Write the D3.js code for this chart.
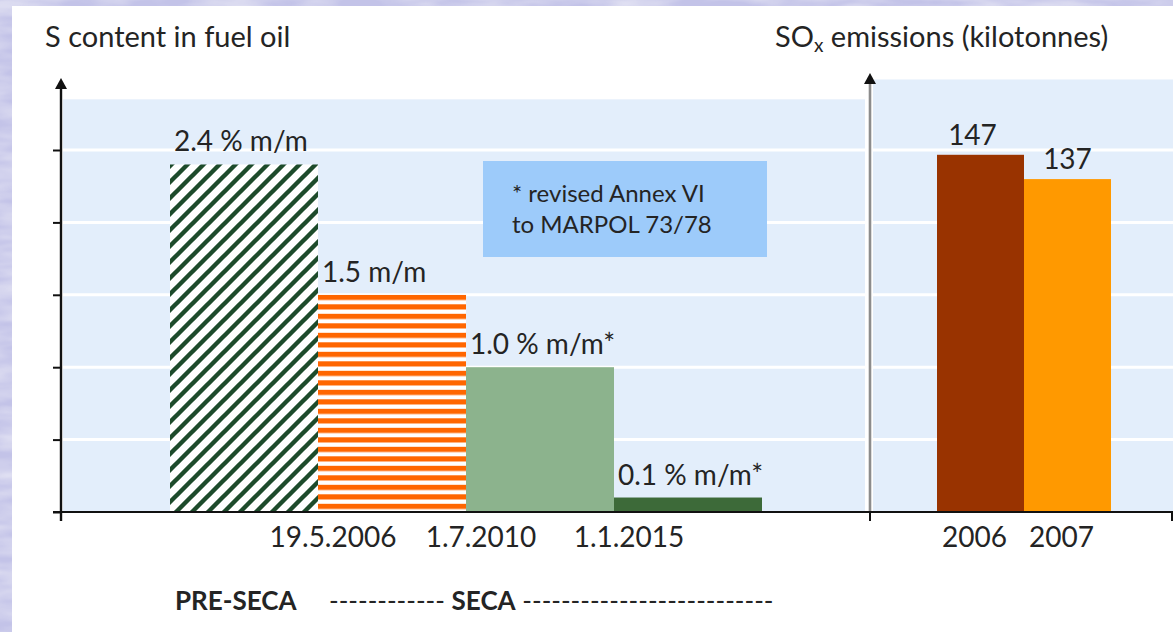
<!DOCTYPE html>
<html>
<head>
<meta charset="utf-8">
<script src="https://cdn.jsdelivr.net/npm/d3@7"></script>
<style>
  html, body { margin: 0; padding: 0; background: #fff; }
  svg { display: block; }
  text { font-family: Lato, "Open Sans", sans-serif; fill: #242424; }
</style>
</head>
<body>
<svg id="chart" width="1173" height="632"></svg>
<script>
// Sulphur limits for marine fuel oil (% m/m), one bar per regulatory period
const limitKeys   = ["pre", "seca2006", "seca2010", "seca2015"];
const limitValues = [2.4, 1.5, 1.0, 0.1];
const limitLabels = ["2.4 % m/m", "1.5 m/m", "1.0 % m/m*", "0.1 % m/m*"];
const limitDates  = ["", "19.5.2006", "1.7.2010", "1.1.2015"];
const limitTicks  = [0, 0.5, 1.0, 1.5, 2.0, 2.5];

// SOx emissions, kilotonnes
const emissionYears  = ["2006", "2007"];
const emissionValues = [147, 137];

const noteLines = ["* revised Annex VI", "to MARPOL 73/78"];

const W = 1173, H = 632;
const svg = d3.select("#chart");
const defs = svg.append("defs");

// ---- page background: lavender mottled frame + white sheet ----
const mottle = defs.append("filter").attr("id", "mottle").attr("x", 0).attr("y", 0).attr("width", 1).attr("height", 1);
mottle.append("feTurbulence").attr("type", "fractalNoise").attr("baseFrequency", "0.015 0.06").attr("numOctaves", 3).attr("seed", 4).attr("result", "n");
mottle.append("feColorMatrix").attr("in", "n").attr("type", "matrix")
  .attr("values", "0 0 0 0 1  0 0 0 0 1  0 0 0 0 1  0.9 0 0 0 -0.3").attr("result", "w");
mottle.append("feComposite").attr("in", "w").attr("in2", "SourceGraphic").attr("operator", "atop");

svg.append("rect").attr("width", W).attr("height", H).attr("fill", "#c3c3e8").attr("filter", "url(#mottle)");
svg.append("rect").attr("x", 12).attr("y", 6).attr("width", W - 12).attr("height", H - 6).attr("fill", "#ffffff");

// ---- scales ----
const baseY = 512;
const yL = d3.scaleLinear().domain([0, 2.5]).range([baseY, 150]);
const yR = d3.scaleLinear().domain([0, 150]).range([baseY, baseY - 150 * 2.43]);
const xL = d3.scaleBand().domain(limitKeys).range([170, 762]).padding(0);
const xR = d3.scaleBand().domain(emissionYears).range([937, 1111]).padding(0);

const axisLX = 61, axisRX = 870;
const leftPlot  = { x0: 63,  x1: 865 };
const rightPlot = { x0: 873, x1: W };

// ---- plot bands ----
svg.append("rect").attr("x", leftPlot.x0).attr("y", yL(2.85))
  .attr("width", leftPlot.x1 - leftPlot.x0).attr("height", baseY - yL(2.85)).attr("fill", "#e3eefb");
svg.append("rect").attr("x", rightPlot.x0).attr("y", yR(178))
  .attr("width", rightPlot.x1 - rightPlot.x0).attr("height", baseY - yR(178)).attr("fill", "#e3eefb");

// white gridlines, shared by both panels
const gridVals = limitTicks.filter(v => v > 0);
[leftPlot, rightPlot].forEach(p => {
  svg.append("g").selectAll("line").data(gridVals).join("line")
    .attr("x1", p.x0).attr("x2", p.x1)
    .attr("y1", d => yL(d)).attr("y2", d => yL(d))
    .attr("stroke", "#ffffff").attr("stroke-width", 3);
});

// ---- fill patterns ----
const hatch = defs.append("pattern").attr("id", "hatch").attr("patternUnits", "userSpaceOnUse")
  .attr("width", 16).attr("height", 16);
hatch.append("rect").attr("width", 16).attr("height", 16).attr("fill", "#ffffff");
hatch.append("path").attr("d", "M-4,4 L4,-4 M0,16 L16,0 M12,20 L20,12")
  .attr("stroke", "#1d4b2b").attr("stroke-width", 4.4);

const stripes = defs.append("pattern").attr("id", "stripes").attr("patternUnits", "userSpaceOnUse")
  .attr("x", 0).attr("y", yL(1.5)).attr("width", 10).attr("height", 9.5);
stripes.append("rect").attr("width", 10).attr("height", 9.5).attr("fill", "#ffffff");
stripes.append("rect").attr("width", 10).attr("height", 5.2).attr("fill", "#ff6600");

const limitFills = ["url(#hatch)", "url(#stripes)", "#8cb38d", "#3d6a39"];

// ---- left bars ----
svg.append("g").selectAll("rect").data(limitValues).join("rect")
  .attr("x", (d, i) => xL(limitKeys[i]))
  .attr("y", d => yL(d))
  .attr("width", xL.bandwidth())
  .attr("height", d => baseY - yL(d))
  .attr("fill", (d, i) => limitFills[i]);

svg.append("g").selectAll("text").data(limitValues).join("text")
  .attr("x", (d, i) => xL(limitKeys[i]) + 4)
  .attr("y", d => yL(d) - 13)
  .attr("font-size", 28)
  .text((d, i) => limitLabels[i]);

// ---- note box ----
svg.append("rect").attr("x", 483).attr("y", 161).attr("width", 284).attr("height", 96).attr("fill", "#9dcbfa");
svg.append("g").selectAll("text").data(noteLines).join("text")
  .attr("x", 512).attr("y", (d, i) => 202 + i * 31)
  .attr("font-size", 24)
  .text(d => d);

// ---- right bars ----
const emissionColors = ["#993300", "#ff9900"];
svg.append("g").selectAll("rect").data(emissionValues).join("rect")
  .attr("x", (d, i) => xR(emissionYears[i]))
  .attr("y", d => yR(d))
  .attr("width", xR.bandwidth())
  .attr("height", d => baseY - yR(d))
  .attr("fill", (d, i) => emissionColors[i]);

svg.append("g").selectAll("text").data(emissionValues).join("text")
  .attr("x", (d, i) => xR(emissionYears[i]) + xR.bandwidth() / 2 - (i === 0 ? 8 : 0))
  .attr("y", d => yR(d) - 10)
  .attr("text-anchor", "middle")
  .attr("font-size", 28)
  .text(d => d);

// ---- axes ----
const arrow = (x, tipY, color) => {
  svg.append("path")
    .attr("d", `M${x},${tipY} L${x - 6},${tipY + 11} L${x + 6},${tipY + 11} Z`)
    .attr("fill", color);
};

// left value axis with ticks
const gAxisL = svg.append("g").attr("transform", `translate(${axisLX},0)`)
  .call(d3.axisLeft(yL).tickValues(limitTicks).tickSize(8).tickFormat(""));
gAxisL.select(".domain").remove();
gAxisL.selectAll(".tick line").attr("stroke", "#111").attr("stroke-width", 2);
svg.append("line").attr("x1", axisLX).attr("x2", axisLX).attr("y1", 84).attr("y2", baseY + 9)
  .attr("stroke", "#111").attr("stroke-width", 2.4);
arrow(axisLX, 78, "#111");

// right value axis (grey)
svg.append("line").attr("x1", axisRX).attr("x2", axisRX).attr("y1", 80).attr("y2", baseY)
  .attr("stroke", "#8c8c8c").attr("stroke-width", 2.6);
arrow(axisRX, 73, "#111");

// shared baseline with end ticks
svg.append("line").attr("x1", axisLX - 8).attr("x2", W).attr("y1", baseY).attr("y2", baseY)
  .attr("stroke", "#111").attr("stroke-width", 2);
svg.append("g").selectAll("line").data([axisRX, W - 1]).join("line")
  .attr("x1", d => d).attr("x2", d => d).attr("y1", baseY).attr("y2", baseY + 9)
  .attr("stroke", "#111").attr("stroke-width", 2);

// category labels under the baseline
svg.append("g").selectAll("text").data(limitDates).join("text")
  .attr("x", (d, i) => xL(limitKeys[i]) + 15)
  .attr("y", 547)
  .attr("text-anchor", "middle")
  .attr("font-size", 28)
  .text(d => d);

svg.append("g").selectAll("text").data(emissionYears).join("text")
  .attr("x", d => xR(d) + xR.bandwidth() / 2 - 6)
  .attr("y", 547)
  .attr("text-anchor", "middle")
  .attr("font-size", 28)
  .text(d => d);

// ---- titles ----
svg.append("text").attr("x", 45).attr("y", 47).attr("font-size", 29).text("S content in fuel oil");
const t2 = svg.append("text").attr("x", 775).attr("y", 47).attr("font-size", 29);
t2.append("tspan").text("SO");
t2.append("tspan").attr("font-size", 19).attr("dy", 5).text("x");
t2.append("tspan").attr("dy", -5).text(" emissions (kilotonnes)");

// ---- period row ----
svg.append("text").attr("x", 175).attr("y", 610).attr("font-size", 26).attr("font-weight", 700).text("PRE-SECA");
const t3 = svg.append("text").attr("x", 329).attr("y", 610).attr("font-size", 26);
t3.append("tspan").text("------------ ");
t3.append("tspan").attr("font-weight", 700).text("SECA");
t3.append("tspan").text(" --------------------------");
</script>
</body>
</html>
